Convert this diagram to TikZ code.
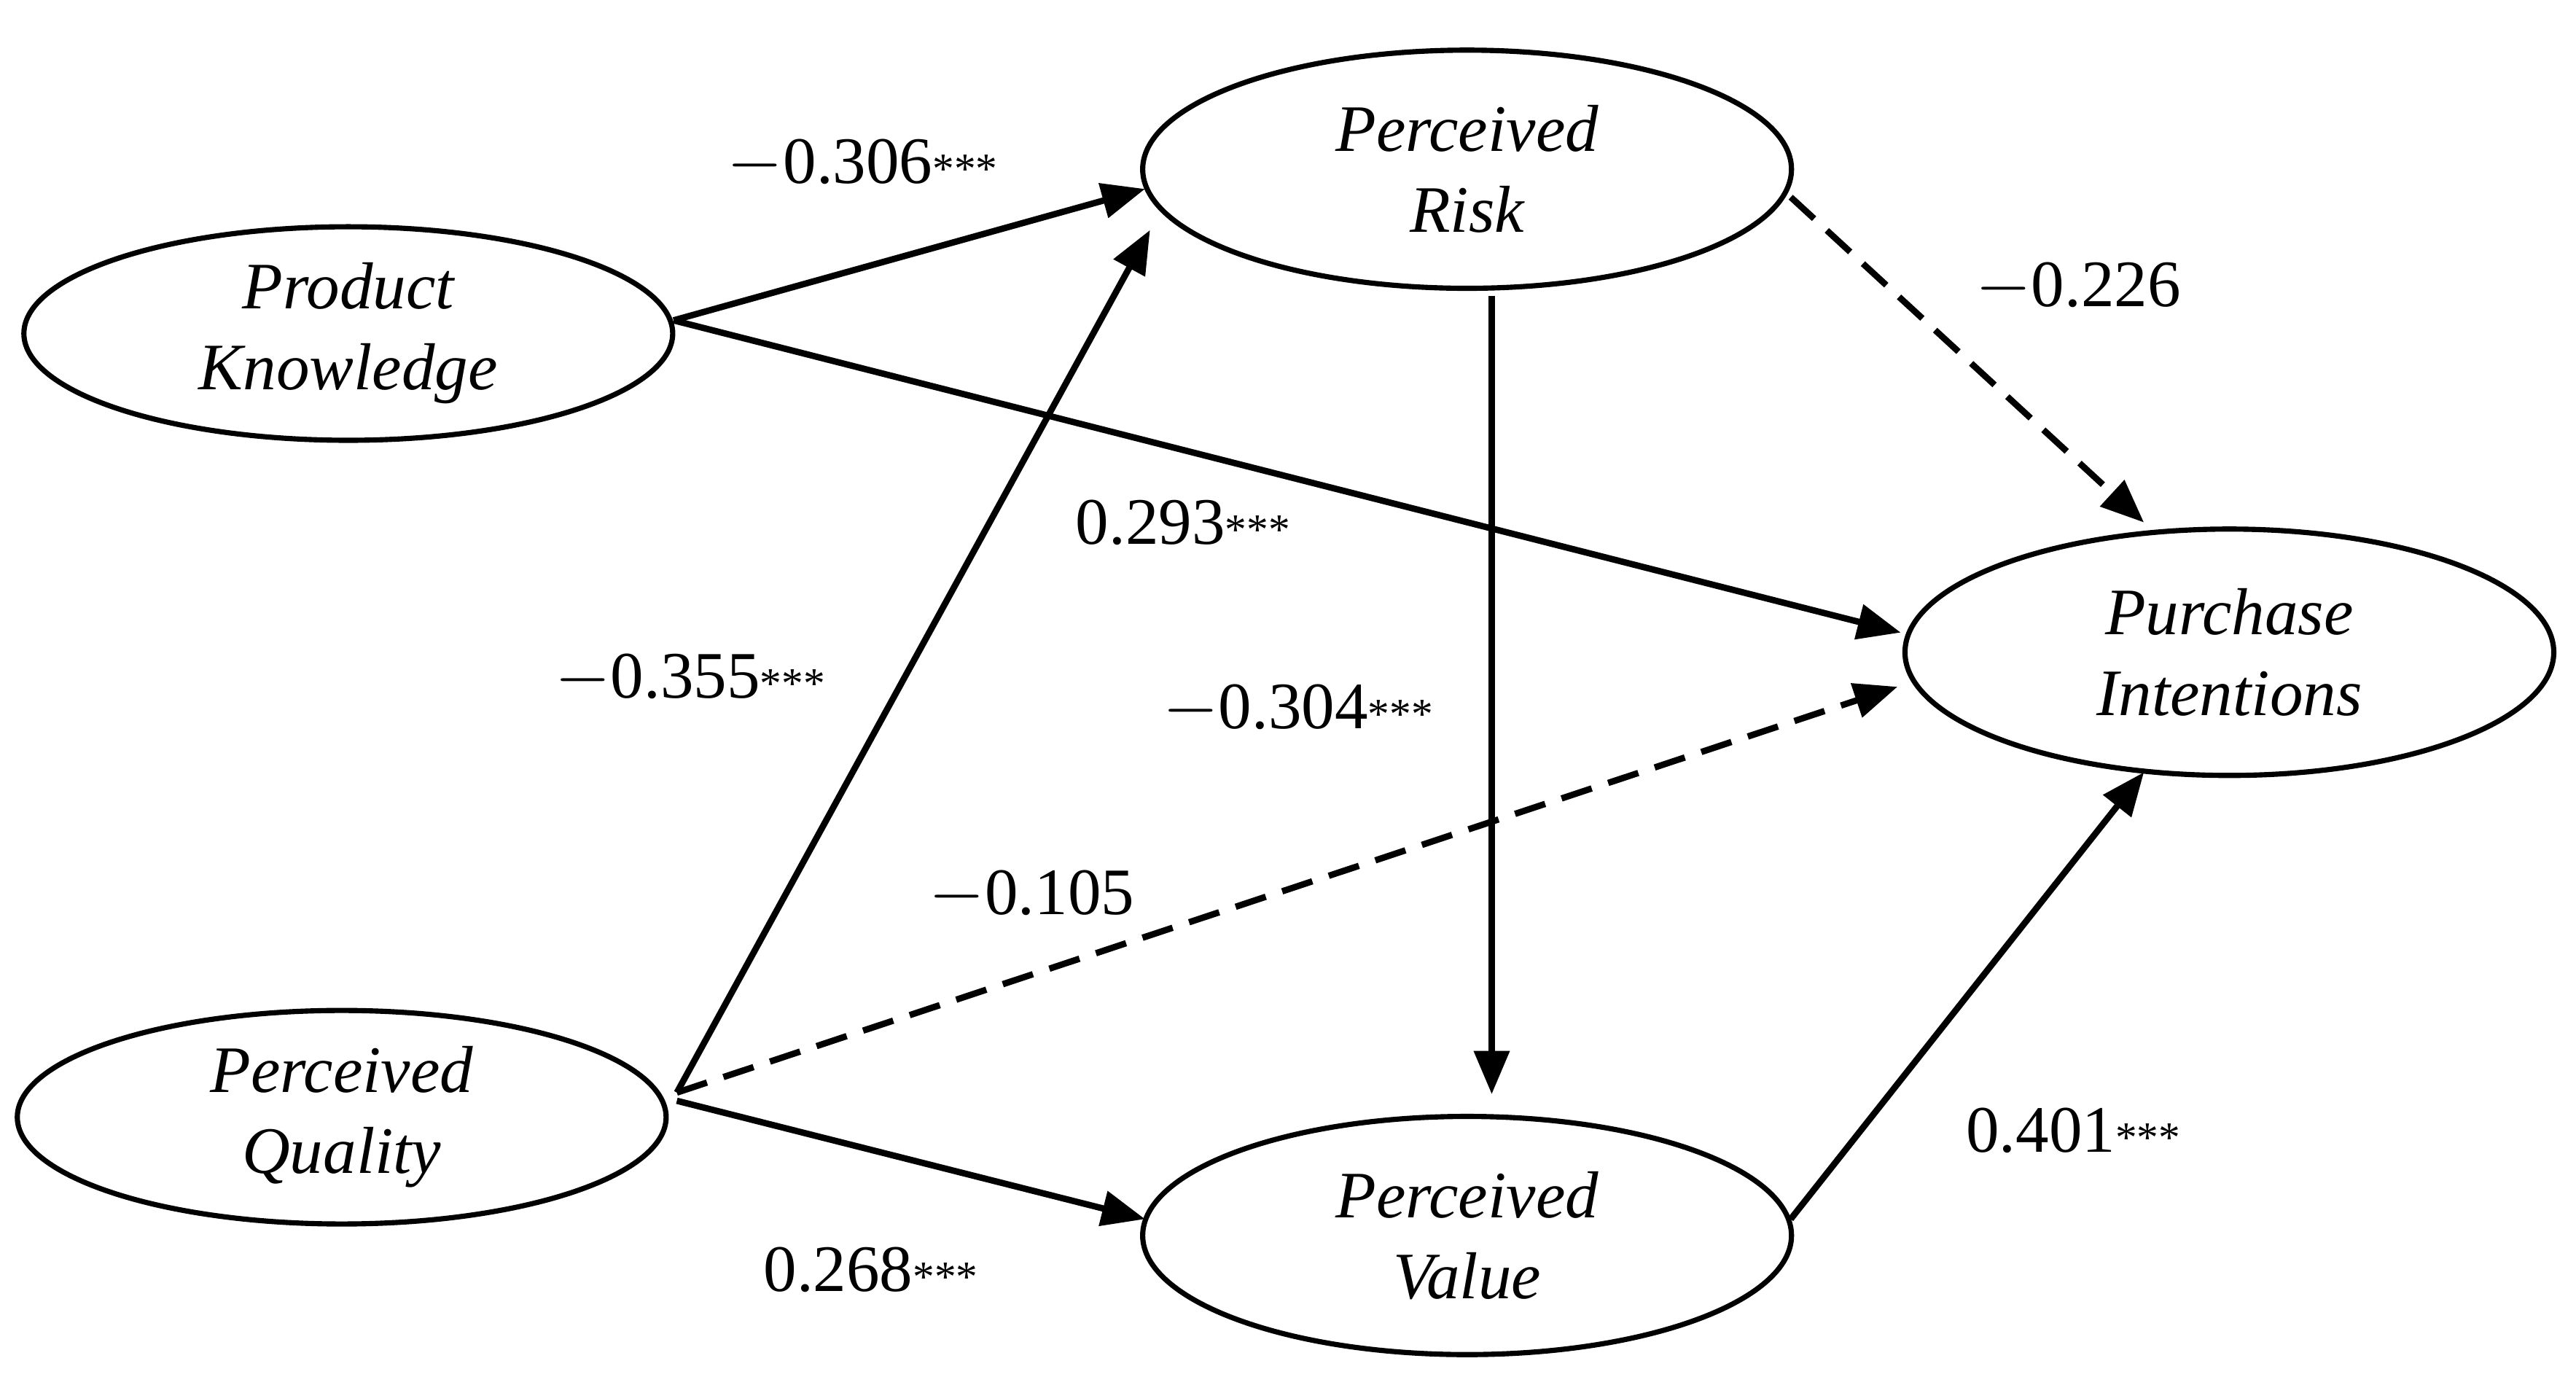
\documentclass[tikz,border=0pt]{standalone}
\usepackage{fontspec}
\setmainfont{Liberation Serif}
\usetikzlibrary{arrows.meta,shapes.geometric}
\newcommand{\stars}{{\fontsize{15}{15}\selectfont ***}}
\begin{document}
\begin{tikzpicture}[x=0.02cm,y=-0.02cm,
  ell/.style={draw,line width=1.8pt,ellipse,inner sep=0pt,align=center,font=\fontsize{23}{28}\selectfont\itshape},
  arr/.style={line width=2.2pt,-{Triangle[length=15pt,width=12pt]}},
  dsh/.style={arr,dash pattern=on 11pt off 6pt},
  lab/.style={font=\fontsize{23}{28}\selectfont}]
\useasboundingbox (0,0) rectangle (1568,838);
\node[ell,minimum width=7.9cm,minimum height=2.6cm] (pk) at (212,203) {Product\\Knowledge};
\node[ell,minimum width=7.9cm,minimum height=2.6cm] (pq) at (208,680) {Perceived\\Quality};
\node[ell,minimum width=7.9cm,minimum height=2.9cm] (pr) at (893,103) {Perceived\\Risk};
\node[ell,minimum width=7.9cm,minimum height=2.9cm] (pv) at (893,752) {Perceived\\Value};
\node[ell,minimum width=7.9cm,minimum height=3.0cm] (pi) at (1357,397) {Purchase\\Intentions};
\coordinate (a1) at (410,195); \coordinate (a2) at (412,665); \coordinate (a3) at (908,180);
\draw[arr] (a1) -- (697,115);
\draw[arr] (a1) -- (1157,385);
\draw[arr] (a2) -- (700,140);
\draw[dsh] (a2) -- (1155,418);
\draw[arr] (412,670) -- (697,742);
\draw[arr] (a3) -- (908,666);
\draw[dsh] (1090,120) -- (1305,318);
\draw[arr] (1090,742) -- (1305,470);
\node[lab] (l1) at (525,100) {$-$0.306\stars};
\node[lab] (l2) at (1265,175) {$-$0.226};
\node[lab] (l3) at (720,318) {0.293\stars};
\node[lab] (l4) at (420,413) {$-$0.355\stars};
\node[lab,fill=white,inner sep=1pt] (l5) at (790,432) {$-$0.304\stars};
\node[lab] (l6) at (628,545) {$-$0.105};
\node[lab] (l7) at (1262,688) {0.401\stars};
\node[lab] (l8) at (530,773) {0.268\stars};
\end{tikzpicture}
\end{document}
